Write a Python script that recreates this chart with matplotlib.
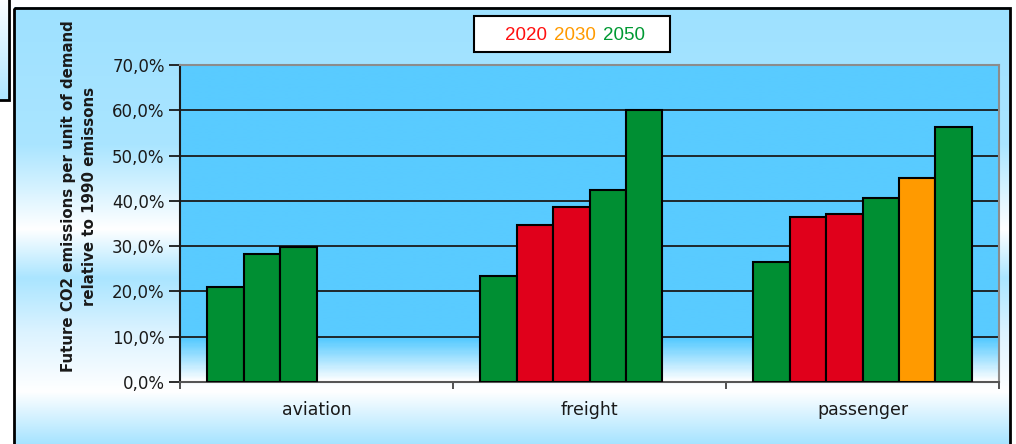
import numpy as np
import matplotlib
matplotlib.use("Agg")
import matplotlib.pyplot as plt
from matplotlib.patches import Rectangle
from matplotlib.colors import LinearSegmentedColormap
from matplotlib.ticker import FuncFormatter, MultipleLocator
from matplotlib.offsetbox import TextArea, HPacker, AnchoredOffsetbox

# ---- data -------------------------------------------------------------
categories = ["aviation", "freight", "passenger"]
aviation = [21.0, 28.2, 29.9]
freight = [23.5, 34.7, 38.7, 42.5, 60.0]
passenger = [26.4, 36.4, 37.1, 40.7, 45.0, 56.4]
aviation_years = ["2050", "2050", "2050"]
freight_years = ["2050", "2020", "2020", "2050", "2050"]
passenger_years = ["2050", "2020", "2020", "2050", "2030", "2050"]
legend_years = ["2020", "2030", "2050"]
y_ticks = [0, 10, 20, 30, 40, 50, 60, 70]

bar_colors = {"2020": "#E0001B", "2030": "#FF9A00", "2050": "#008F33"}
text_colors = {"2020": "#FF1010", "2030": "#FF9A00", "2050": "#009933"}

W, H, DPI = 1016, 444, 100
fig = plt.figure(figsize=(W / DPI, H / DPI), dpi=DPI)
fig.patch.set_facecolor("white")

# ---- outer panel background (vertical gradient) ------------------------
bg = fig.add_axes([0, 0, 1, 1], zorder=-10)
bg.set_xlim(0, W)
bg.set_ylim(H, 0)
bg.axis("off")
stops_y = [0, 140, 225, 275, 330, 390, 444]
stops_c = [(158, 225, 255), (170, 229, 255), (255, 255, 255), (170, 229, 255),
           (220, 243, 255), (255, 255, 255), (165, 227, 255)]
ys = np.arange(H)
grad = np.zeros((H, 1, 3))
for k in range(3):
    grad[:, 0, k] = np.interp(ys, stops_y, [c[k] for c in stops_c]) / 255.0
bg.imshow(grad, extent=[14, 1010, H, 8], aspect="auto", interpolation="bilinear")
bg.add_patch(Rectangle((14, 8), 996, 450, fill=False, edgecolor="black", lw=2))

# small neighbouring box at the top-left corner
small = np.zeros((100, 1, 3))
for k in range(3):
    small[:, 0, k] = np.interp(np.arange(100), [0, 100],
                               [255 / 255.0, [172, 229, 255][k] / 255.0])
bg.imshow(small, extent=[-2, 9, 100, -2], aspect="auto", interpolation="bilinear")
bg.add_patch(Rectangle((-2, -2), 11, 102, fill=False, edgecolor="black", lw=2))
bg.set_xlim(0, W)
bg.set_ylim(H, 0)

# ---- legend-like title box --------------------------------------------
bg.add_patch(Rectangle((474, 16), 196, 36, facecolor="white",
                       edgecolor="black", lw=1.5))
parts = [TextArea(y, textprops=dict(color=text_colors[y], fontsize=13.5,
                                    family="Liberation Sans"))
         for y in legend_years]
pack = HPacker(children=parts, align="baseline", pad=0, sep=5)
anch = AnchoredOffsetbox(loc="center", child=pack, frameon=False,
                         bbox_to_anchor=(575 / W, 1 - 35 / H),
                         bbox_transform=fig.transFigure, borderpad=0, pad=0)
bg.add_artist(anch)

# ---- plot area ---------------------------------------------------------
left, right, top, bottom = 180, 999, 65, 382
ax = fig.add_axes([left / W, 1 - bottom / H, (right - left) / W, (bottom - top) / H])
ax.set_xlim(-0.5, len(categories) - 0.5)
ax.set_ylim(0, 70)

cmap = LinearSegmentedColormap.from_list(
    "area", [(0.0, "#FFFFFF"), (0.13, "#59CBFF"), (1.0, "#59CBFF")])
area = np.linspace(0, 1, 300).reshape(-1, 1)
ax.imshow(area, extent=[-0.5, len(categories) - 0.5, 0, 70], origin="lower",
          aspect="auto", cmap=cmap, zorder=0, interpolation="bilinear")

for v in y_ticks[1:-1]:
    ax.axhline(v, color="#1A1A1A", lw=1.3, zorder=1)

n_slots = 6
bar_w = 0.8 / n_slots
groups = [(aviation, aviation_years), (freight, freight_years),
          (passenger, passenger_years)]
for gi, (vals, yrs) in enumerate(groups):
    x0 = gi - 0.5 + 0.1
    xs = [x0 + j * bar_w for j in range(len(vals))]
    ax.bar(xs, vals, width=bar_w, align="edge",
           color=[bar_colors[y] for y in yrs], edgecolor="black",
           linewidth=1.5, zorder=3)

ax.yaxis.set_major_locator(MultipleLocator(10))
ax.yaxis.set_major_formatter(
    FuncFormatter(lambda v, p: f"{v:.1f}%".replace(".", ",")))
ax.tick_params(axis="y", direction="out", length=8, width=1.3,
               labelsize=12, pad=3, colors="#1A1A1A")
ax.set_xticks([-0.5, 0.5, 1.5, 2.5], minor=True)
ax.set_xticks(range(len(categories)))
ax.set_xticklabels(categories)
ax.tick_params(axis="x", which="major", length=0, labelsize=12.5, pad=14,
               colors="#1A1A1A")
ax.tick_params(axis="x", which="minor", direction="out", length=5, width=1.2,
               colors="#333333")

for s in ["top", "right"]:
    ax.spines[s].set_color("#8C8C8C")
    ax.spines[s].set_linewidth(1.5)
ax.spines["left"].set_color("#1A1A1A")
ax.spines["left"].set_linewidth(1.5)
ax.spines["bottom"].set_color("#555555")
ax.spines["bottom"].set_linewidth(1.5)

fig.text(79 / W, 1 - 196 / H,
         "Future CO2 emissions per unit of demand\nrelative to 1990 emissons",
         rotation=90, ha="center", va="center", multialignment="center",
         fontsize=10.8, fontweight="bold", linespacing=1.45, color="#1A1A1A")

fig.savefig("out.png", dpi=DPI)
